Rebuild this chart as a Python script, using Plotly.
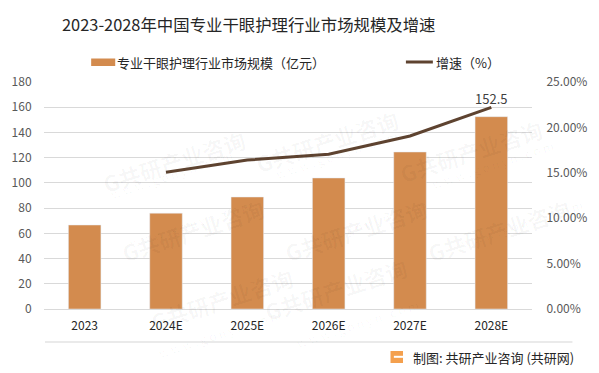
import plotly.graph_objects as go

categories = ["2023", "2024E", "2025E", "2026E", "2027E", "2028E"]
market_size = [66.6, 76.0, 88.8, 103.9, 124.5, 152.5]
growth_categories = ["2024E", "2025E", "2026E", "2027E", "2028E"]
growth_rate = [0.1505, 0.164, 0.1704, 0.1905, 0.222]
growth_labels = ["", "", "", "", "152.5"]

title_text = "2023-2028年中国专业干眼护理行业市场规模及增速"
bar_name = "专业干眼护理行业市场规模（亿元）"
line_name = "增速（%）"
source_text = "制图: 共研产业咨询 (共研网)"

W, H = 599, 373
L, R, T, B = 36, 56, 82, 64
FONT = "Noto Sans CJK SC"
BAR_COLOR = "#D38B4E"
LINE_COLOR = "#5E4330"
GRID = "#D9D9D9"
CLEAR = "rgba(0,0,0,0)"

fig = go.Figure()
fig.add_trace(go.Bar(x=categories, y=market_size, name=bar_name, marker_color=BAR_COLOR,
                     width=0.4, showlegend=False))
fig.add_trace(go.Scatter(x=growth_categories, y=growth_rate, name=line_name, yaxis="y2",
                         mode="lines+text", text=growth_labels, textposition="top center",
                         textfont=dict(size=13, color="#404040", family=FONT),
                         line=dict(color=LINE_COLOR, width=3), showlegend=False, cliponaxis=False))

def px_x(x):
    return (x - L) / (W - L - R)

def px_y(y):
    return 1 - (y - T) / (H - T - B)

annotations = [
    dict(text=title_text, x=px_x(249), y=px_y(24), xref="paper", yref="paper", showarrow=False,
         font=dict(size=16.4, color="#262626", family=FONT), xanchor="center", yanchor="middle"),
    dict(text=bar_name, x=px_x(110), y=px_y(62), xref="paper", yref="paper", showarrow=False,
         font=dict(size=13, color="#262626", family=FONT), xanchor="left", yanchor="middle"),
    dict(text=line_name, x=px_x(441), y=px_y(62), xref="paper", yref="paper", showarrow=False,
         font=dict(size=13, color="#262626", family=FONT), xanchor="left", yanchor="middle"),
    dict(text=source_text, x=px_x(417), y=px_y(357), xref="paper", yref="paper", showarrow=False,
         font=dict(size=13, color="#262626", family=FONT), xanchor="left", yanchor="middle"),
]

# faint watermarks
wm_pos = [(90, 120), (330, 100), (560, 110), (110, 230), (360, 230), (590, 230), (140, 340), (420, 330)]
for (wx, wy) in wm_pos:
    annotations.append(dict(text="<b>G共研产业咨询</b>", x=px_x(wx), y=px_y(wy), xref="paper", yref="paper",
                            showarrow=False, textangle=-18,
                            font=dict(size=22, color="rgba(0,0,0,0.035)", family=FONT)))
    annotations.append(dict(text="w w w . g o n y n . c o m", x=px_x(wx + 10), y=px_y(wy + 24), xref="paper",
                            yref="paper", showarrow=False, textangle=-18,
                            font=dict(size=12, color="rgba(0,0,0,0.035)", family=FONT)))

shapes = [
    dict(type="rect", xref="paper", yref="paper", x0=px_x(85), x1=px_x(110), y0=px_y(66), y1=px_y(58.5),
         fillcolor=BAR_COLOR, line=dict(width=0)),
    dict(type="line", xref="paper", yref="paper", x0=px_x(412), x1=px_x(440), y0=px_y(62), y1=px_y(62),
         line=dict(color=LINE_COLOR, width=3)),
    dict(type="line", xref="paper", yref="paper", x0=px_x(37), x1=px_x(585), y0=px_y(342), y1=px_y(342),
         line=dict(color="#E3E3E3", width=1.5)),
    dict(type="rect", xref="paper", yref="paper", x0=px_x(396), x1=px_x(409), y0=px_y(363), y1=px_y(351),
         fillcolor="#F4A04E", line=dict(width=0)),
    dict(type="rect", xref="paper", yref="paper", x0=px_x(399.5), x1=px_x(409), y0=px_y(357.8), y1=px_y(355.8),
         fillcolor="#FFFFFF", line=dict(width=0)),
]

fig.update_layout(
    width=W, height=H,
    margin=dict(l=L, r=R, t=T, b=B),
    paper_bgcolor="white", plot_bgcolor="white",
    font=dict(family=FONT, size=12, color="#595959"),
    bargap=0.6,
    xaxis=dict(type="category", showgrid=False, showline=True, linecolor=GRID, linewidth=1,
               ticks="outside", ticklen=6, tickcolor=CLEAR, tickfont=dict(size=12, color="#262626"),
               fixedrange=True),
    yaxis=dict(range=[0, 180], dtick=20, showgrid=True, gridcolor=GRID, gridwidth=1, zeroline=False,
               ticks="outside", ticklen=9, tickcolor=CLEAR, tickfont=dict(size=12, color="#595959")),
    yaxis2=dict(range=[0, 0.25], dtick=0.05, tickformat=".2%", overlaying="y", side="right",
                showgrid=False, zeroline=False, ticks="outside", ticklen=11, tickcolor=CLEAR,
                tickfont=dict(size=12, color="#595959")),
    annotations=annotations,
    shapes=shapes,
)

fig.write_html("out.html", config={"displayModeBar": False},
               post_script="document.body.style.margin='0';document.body.style.padding='0';")
